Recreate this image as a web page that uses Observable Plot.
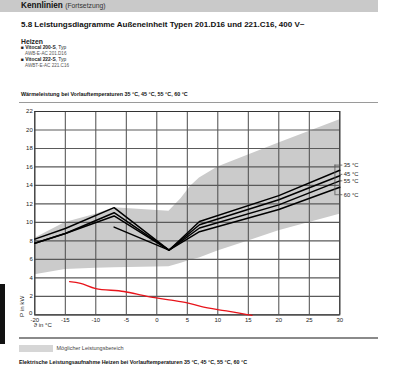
<!DOCTYPE html>
<html><head><meta charset="utf-8">
<script src="https://cdn.jsdelivr.net/npm/d3@7"></script>
<script src="https://cdn.jsdelivr.net/npm/@observablehq/plot@0.6"></script>
<style>
html,body{margin:0;padding:0;background:#fff;}
#page{position:relative;width:400px;height:374px;overflow:hidden;font-family:"Liberation Sans",Arial,sans-serif;color:#111;}
.t{position:absolute;white-space:nowrap;}
#chart{position:absolute;left:0;top:100px;}
</style></head><body><div id="page"><div id="chart"></div></div>
<script>
// ---- data ----
const xTicks = [-20, -15, -10, -5, 0, 5, 10, 15, 20, 25, 30];
const yTicks = [0, 2, 4, 6, 8, 10, 12, 14, 16, 18, 20, 22];

const seriesNames = ["35 °C", "45 °C", "55 °C", "60 °C"];
const x35 = [-20, -15, -7, 2, 7, 20, 30];
const y35 = [8.2, 9.35, 11.6, 7.0, 10.1, 12.9, 15.65];
const x45 = [-20, -15, -7, 2, 7, 20, 30];
const y45 = [7.75, 8.8, 11.05, 7.0, 9.75, 12.45, 15.05];
const x55 = [-20, -15, -7, 2, 7, 20, 30];
const y55 = [7.75, 8.8, 10.7, 7.0, 9.4, 11.9, 14.5];
const x60 = [-7, 2, 7, 20, 30];
const y60 = [9.5, 7.0, 9.0, 11.4, 13.8];

const bandX    = [-20, -15, -10, -7, 2, 4, 5.5, 7, 10, 15, 20, 30];
const bandLow  = [4.35, 4.9, 5.05, 5.1, 5.2, 5.6, 5.9, 6.15, 6.9, 8.0, 9.1, 10.9];
const bandHigh = [8.3, 10.0, 10.9, 11.6, 11.2, 12.6, 13.9, 14.8, 16.0, 17.3, 18.6, 21.1];

const redX = [-14.3, -12.5, -10, -5.4, -1.6, 2, 5, 7.2, 10.2, 12.6, 14.8, 15.6];
const redY = [3.6, 3.42, 2.85, 2.53, 2.0, 1.63, 1.3, 0.92, 0.55, 0.3, 0.02, -0.05];

// ---- build tables ----
const seriesX = [x35, x45, x55, x60];
const seriesY = [y35, y45, y55, y60];
const lines = [];
seriesNames.forEach((name, k) => seriesX[k].forEach((xv, i) => lines.push({series: name, x: xv, y: seriesY[k][i]})));
const band = bandX.map((xv, i) => ({x: xv, lo: bandLow[i], hi: bandHigh[i]}));
const red = redX.map((xv, i) => ({x: xv, y: redY[i]}));

// label placement (annotation, in data units)
const labelY = [16.2, 15.2, 14.5, 13.0];
const labels = seriesNames.map((s, i) => ({label: s, y: labelY[i]}));

const chart = Plot.plot({
  width: 400, height: 240,
  marginLeft: 34.3, marginRight: 60.7, marginTop: 11, marginBottom: 25.6,
  style: {fontFamily: "Liberation Sans, Arial, sans-serif", fontSize: "6px", color: "#222", background: "transparent", overflow: "visible"},
  x: {domain: [-20, 30]},
  y: {domain: [0, 22]},
  marks: [
    Plot.areaY(band, {x: "x", y1: "lo", y2: "hi", fill: "#cbcbcb"}),
    Plot.gridX(xTicks, {stroke: "#4a4a4a", strokeOpacity: 1, strokeWidth: 1}),
    Plot.gridY(yTicks, {stroke: "#5a5a5a", strokeOpacity: 1, strokeWidth: 1.2}),
    Plot.frame({stroke: "#333"}),
    Plot.axisX(xTicks, {tickFormat: d => String(d), tickSize: 0, tickPadding: 2.5, label: null, fontSize: 6}),
    Plot.axisY(yTicks.filter(d => d !== 0), {tickFormat: d => String(d), tickSize: 0, tickPadding: 2, label: null, fontSize: 6}),
    Plot.axisY(yTicks.filter(d => d === 0), {tickFormat: d => String(d), tickSize: 0, tickPadding: 2.5, dy: -2.2, label: null, fontSize: 6}),
    Plot.line(lines, {x: "x", y: "y", z: "series", stroke: "#000", strokeWidth: 1.5}),
    Plot.line(red, {x: "x", y: "y", stroke: "#e8141b", strokeWidth: 1.3, curve: "catmull-rom", clip: false}),
    // bracket for series labels
    Plot.ruleY([labelY[0], labelY[3]], {x1: 29.2, x2: 30.5, stroke: "#555", strokeWidth: 0.8}),
    Plot.ruleX([29.2], {y1: labelY[3], y2: labelY[0], stroke: "#555", strokeWidth: 0.8}),
    Plot.ruleY([labelY[1], labelY[2]], {x1: 30, x2: 30.5, stroke: "#555", strokeWidth: 0.8}),
    Plot.text(labels, {x: 30.5, y: "y", text: "label", textAnchor: "start", dx: 1, fontSize: 5.8, fill: "#222"}),
    // axis labels
    Plot.text(["P in kW"], {text: d => d, frameAnchor: "bottom-left", rotate: -90, textAnchor: "start", dx: -11.3, dy: 2, fontSize: 6.2, fill: "#222"}),
    Plot.text(["ϑ in °C"], {text: d => d, frameAnchor: "bottom-left", textAnchor: "start", dx: -1, dy: 12, fontSize: 6, fill: "#222"})
  ]
});
document.getElementById("chart").appendChild(chart);

// ---- surrounding page text ----
const page = document.getElementById("page");
function box(x, y, w, h, color) {
  const d = document.createElement("div");
  d.style.cssText = `position:absolute;left:${x}px;top:${y}px;width:${w}px;height:${h}px;background:${color};`;
  page.appendChild(d);
}
function txt(html, x, yc, size, weight, color) {
  const d = document.createElement("div");
  d.className = "t";
  d.innerHTML = html;
  d.style.cssText += `left:${x}px;top:${yc - size * 0.6}px;font-size:${size}px;line-height:${size * 1.2}px;font-weight:${weight};color:${color};`;
  page.appendChild(d);
}
box(0, 0, 378, 12, "#c9c9c9");
txt('Kennlinien <span style="font-weight:400;font-size:6.8px;color:#333">(Fortsetzung)</span>', 21, 6.3, 8.2, 700, "#111");
txt("5.8 Leistungsdiagramme Außeneinheit Typen 201.D16 und 221.C16, 400 V~", 21, 25, 8, 700, "#111");
txt("Heizen", 21, 41.7, 6.8, 700, "#222");
txt('■ <b>Vitocal 200-S</b>, Typ', 21, 47.8, 4.9, 400, "#222");
txt("AWB-E-AC 201.D16", 25, 53.3, 4.6, 400, "#555");
txt('■ <b>Vitocal 222-S</b>, Typ', 21, 60.2, 4.9, 400, "#222");
txt("AWBT-E-AC 221.C16", 25, 66, 4.6, 400, "#555");
txt("Wärmeleistung bei Vorlauftemperaturen 35 °C, 45 °C, 55 °C, 60 °C", 21, 94.2, 5.4, 700, "#111");
box(19, 101.5, 359, 1.6, "#9a9a9a");
box(19, 337, 359, 1.5, "#8a8a8a");
box(19, 345, 34, 7, "#d6d6d6");
txt("Möglicher Leistungsbereich", 56.5, 348.7, 5.5, 400, "#444");
txt("Elektrische Leistungsaufnahme Heizen bei Vorlauftemperaturen 35 °C, 45 °C, 55 °C, 60 °C", 19, 361.8, 5.4, 700, "#111");
box(0, 284, 5, 60, "#111");
</script></body></html>
